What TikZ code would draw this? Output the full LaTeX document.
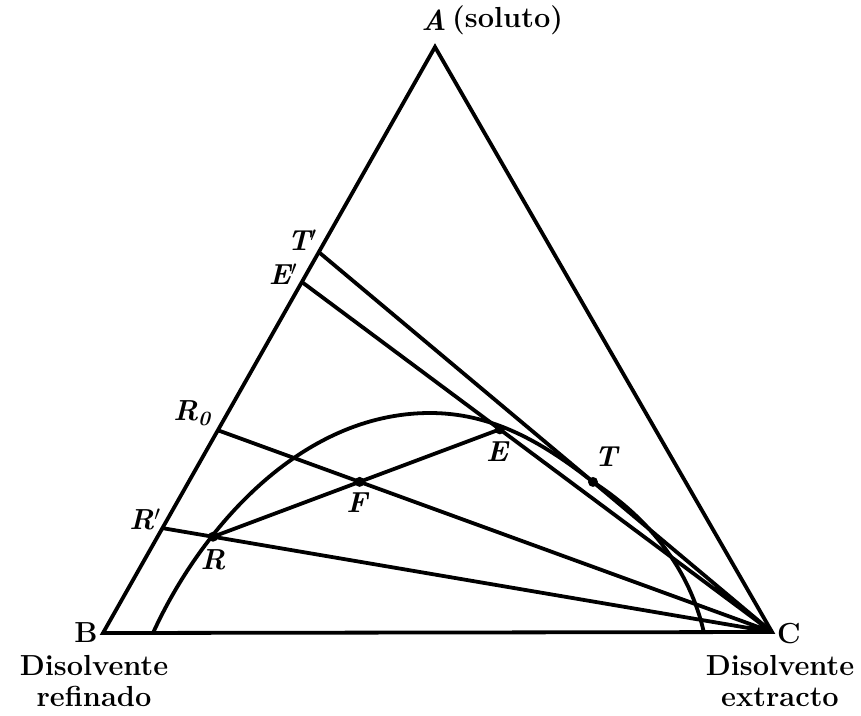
\documentclass[tikz,border=0pt]{standalone}
\usepackage{amsmath,amssymb}
\usepackage{tikz}
\usetikzlibrary{calc}

\tikzset{
  lin/.style={line width=3.8pt,line join=miter},
  pt/.style={fill=black},
  lbl/.style={font=\fontsize{29}{31}\selectfont\bfseries\itshape,inner sep=0pt},
  txt/.style={font=\fontsize{29}{31}\selectfont\bfseries,align=center,inner sep=0pt}
}

\begin{document}
\begin{tikzpicture}[x=1pt,y=-1pt]
\useasboundingbox (0,0) rectangle (861,715);
% vertices
\coordinate (A) at (435,47);
\coordinate (B) at (103,633);
\coordinate (C) at (772,632);
% points on side AB
\coordinate (Tp) at ($(B)!.650!(A)$);
\coordinate (Ep) at ($(B)!.599!(A)$);
\coordinate (Ro) at ($(B)!.346!(A)$);
\coordinate (Rp) at ($(B)!.179!(A)$);
% points on the lines to C
\coordinate (E) at ($(Ep)!.421!(C)$);
\coordinate (T) at ($(Tp)!.605!(C)$);
\coordinate (R) at ($(Rp)!.083!(C)$);
\coordinate (F) at (intersection of Ro--C and R--E);

\draw[lin] (A)--(B)--(C)--cycle;
\draw[lin] (Tp)--(C) (Ep)--(C) (Ro)--(C) (Rp)--(C);
\draw[lin] (R)--(E);
% solubility curve
\draw[lin] (153,633) .. controls (200,530) and (300,413) .. (430,413)
  .. controls (490,413) and (540,440) .. (T)
  .. controls (650,519) and (690,570) .. (704,633);

\foreach \p in {R,F,E,T} \fill[pt] (\p) circle (5);

\node[lbl] (lA) at (434,20) {A};
\node[txt,anchor=west] (lsol) at (452,20) {(soluto)};
\node[txt] (lB) at (86,633) {B};
\node[txt] (lC) at (789,634) {C};
\node[lbl] (lTp) at (302,240) {T$'$};
\node[lbl] (lEp) at (283,274) {E$'$};
\node[lbl] (lRo) at (192,413) {R\textsubscript{0}};
\node[lbl] (lRp) at (145,519) {R$'$};
\node[lbl] (lR) at (213,560) {R};
\node[lbl] (lF) at (357,503) {F};
\node[lbl] (lE) at (497,452) {E};
\node[lbl] (lT) at (606,457) {T};
\node[txt] (lref) at (94,681) {Disolvente\\refinado};
\node[txt] (lext) at (780,681) {Disolvente\\extracto};
\end{tikzpicture}
\end{document}
